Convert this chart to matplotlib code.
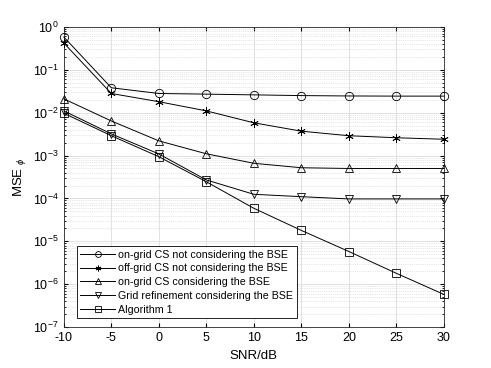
import matplotlib
matplotlib.use("Agg")
import matplotlib.pyplot as plt
from matplotlib.ticker import LogLocator, NullFormatter

plt.rcParams['font.family'] = ['Liberation Sans', 'DejaVu Sans']
plt.rcParams['mathtext.fontset'] = 'custom'
plt.rcParams['mathtext.rm'] = 'Liberation Sans'
plt.rcParams['mathtext.it'] = 'Liberation Sans:italic'
plt.rcParams['axes.unicode_minus'] = False

# ------------------------
# DATA
# ------------------------
snr = [-10, -5, 0, 5, 10, 15, 20, 25, 30]

ongrid_no_bse = [0.58, 0.038, 0.028, 0.027, 0.026, 0.025, 0.0245, 0.0243, 0.0243]
offgrid_no_bse = [0.42, 0.028, 0.018, 0.011, 0.0058, 0.0037, 0.0029, 0.0026, 0.0024]
ongrid_bse = [0.021, 0.0064, 0.0022, 0.0011, 0.00066, 0.00052, 0.0005, 0.0005, 0.0005]
grid_refine_bse = [0.011, 0.0032, 0.00109, 0.00027, 0.000125, 0.00011, 0.0000975, 0.0000975, 0.0000975]
algorithm1 = [0.0097, 0.0029, 0.00094, 0.000245, 0.000059, 0.000018, 0.0000058, 0.0000018, 0.00000058]

labels = [
    "on-grid CS not considering the BSE",
    "off-grid CS not considering the BSE",
    "on-grid CS considering the BSE",
    "Grid refinement considering the BSE",
    "Algorithm 1",
]
markers = ["o", (6, 2, 0), "^", "v", "s"]
series = [ongrid_no_bse, offgrid_no_bse, ongrid_bse, grid_refine_bse, algorithm1]

# ------------------------
# PLOT
# ------------------------
fig = plt.figure(figsize=(4.91, 3.68), dpi=100)
ax = fig.add_axes([0.130, 0.111, 0.774, 0.816])

for y, m, lab in zip(series, markers, labels):
    ax.semilogy(snr, y, color="black", linewidth=0.7, marker=m,
                markersize=6, markerfacecolor="none",
                markeredgecolor="black", markeredgewidth=0.6,
                label=lab, clip_on=False, zorder=3)

ax.set_xlim(-10, 30)
ax.set_ylim(1e-7, 1)
ax.set_xticks(range(-10, 31, 5))
ax.yaxis.set_major_locator(LogLocator(base=10, numticks=10))
ax.yaxis.set_minor_locator(LogLocator(base=10, subs=range(2, 10), numticks=100))
ax.yaxis.set_minor_formatter(NullFormatter())

ax.grid(True, which="major", color="#dcdcdc", linewidth=0.6)
ax.grid(True, which="minor", axis="y", color="#d0d0d0", linestyle=":", linewidth=0.5)
ax.set_axisbelow(True)
ax.tick_params(which="both", direction="in", top=True, right=True, labelsize=9)
ax.tick_params(which="major", length=3)
ax.tick_params(which="minor", length=1.5)
for s in ax.spines.values():
    s.set_linewidth(0.6)
    s.set_color("#262626")

ax.set_xlabel("SNR/dB", fontsize=9.5)
ax.set_ylabel(r"MSE $_{\phi}$", fontsize=9.5)

leg = ax.legend(loc="lower left", fontsize=7.7, frameon=True, fancybox=False,
                edgecolor="black", framealpha=1, handlelength=3.3,
                borderpad=0.3, labelspacing=0.36, handletextpad=0.3,
                borderaxespad=0, markerscale=0.7,
                bbox_to_anchor=(0.034, 0.03))
leg.get_frame().set_linewidth(0.6)

fig.savefig("out.png", dpi=100)
